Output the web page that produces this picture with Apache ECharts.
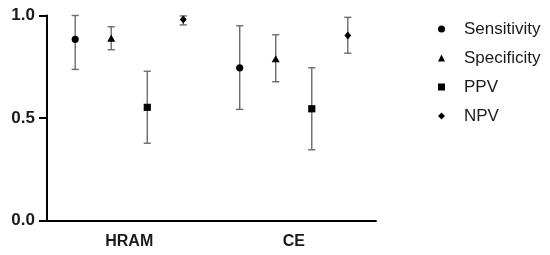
<!DOCTYPE html>
<html>
<head>
<meta charset="utf-8">
<script src="https://cdn.jsdelivr.net/npm/echarts@6/dist/echarts.min.js"></script>
<style>html,body{margin:0;padding:0;background:#fff;}#c{width:550px;height:255px;}</style>
</head>
<body>
<div id="c"></div>
<script>
var categories = ['HRAM', 'CE'];
var seriesNames = ['Sensitivity', 'Specificity', 'PPV', 'NPV'];
var yTicks = [0, 0.5, 1.0];
// values per category [HRAM, CE]
var sensValue = [0.884, 0.745];
var sensLow   = [0.737, 0.542];
var sensHigh  = [1.000, 0.950];
var specValue = [0.887, 0.786];
var specLow   = [0.833, 0.677];
var specHigh  = [0.945, 0.906];
var ppvValue  = [0.552, 0.545];
var ppvLow    = [0.377, 0.345];
var ppvHigh   = [0.728, 0.745];
var npvValue  = [0.981, 0.903];
var npvLow    = [0.954, 0.816];
var npvHigh   = [0.998, 0.991];

var groups = [
  [sensValue, sensLow, sensHigh],
  [specValue, specLow, specHigh],
  [ppvValue, ppvLow, ppvHigh],
  [npvValue, npvLow, npvHigh]
];
var shapes = ['circle', 'triangle', 'square', 'diamond'];
var legendIcons = ['circle', 'triangle', 'rect', 'diamond'];

function markerShape(kind, x, y) {
  if (kind === 'circle') return {type: 'circle', shape: {cx: x, cy: y, r: 3.6}, style: {fill: '#000'}};
  if (kind === 'square') return {type: 'rect', shape: {x: x - 3.6, y: y - 3.6, width: 7.2, height: 7.2}, style: {fill: '#000'}};
  if (kind === 'triangle') return {type: 'polygon', shape: {points: [[x, y - 4.2], [x + 4, y + 3], [x - 4, y + 3]]}, style: {fill: '#000'}};
  return {type: 'polygon', shape: {points: [[x, y - 4], [x + 3.4, y], [x, y + 4], [x - 3.4, y]]}, style: {fill: '#000'}};
}

var series = groups.map(function (g, si) {
  var data = categories.map(function (c, ci) { return [ci, g[0][ci], g[1][ci], g[2][ci]]; });
  return {
    name: seriesNames[si],
    type: 'custom',
    data: data,
    encode: {x: 0, y: [1, 2, 3]},
    renderItem: function (params, api) {
      var ci = api.value(0);
      var band = api.size([1, 0])[0];
      var off = (si - 1.5) * band * 0.219;
      var p = api.coord([ci, api.value(1)]);
      var lo = api.coord([ci, api.value(2)]);
      var hi = api.coord([ci, api.value(3)]);
      var x = p[0] + off;
      var cap = 3.6;
      var ls = {stroke: '#6b6b6b', lineWidth: 1.4};
      return {
        type: 'group',
        children: [
          {type: 'line', shape: {x1: x, y1: hi[1], x2: x, y2: lo[1]}, style: ls},
          {type: 'line', shape: {x1: x - cap, y1: hi[1], x2: x + cap, y2: hi[1]}, style: ls},
          {type: 'line', shape: {x1: x - cap, y1: lo[1], x2: x + cap, y2: lo[1]}, style: ls},
          markerShape(shapes[si], x, p[1])
        ]
      };
    }
  };
});

var chart = echarts.init(document.getElementById('c'), null, {renderer: 'canvas'});
chart.setOption({
  animation: false,
  backgroundColor: '#fff',
  grid: {left: 47, right: 174, top: 15.5, bottom: 34.5, containLabel: false},
  legend: {
    orient: 'vertical',
    left: 433,
    top: 14,
    itemWidth: 7,
    itemHeight: 7,
    itemGap: 9,
    textStyle: {fontFamily: 'Liberation Sans, Arial, sans-serif', fontSize: 17, color: '#1a1a1a', padding: [0, 0, 0, 14], lineHeight: 20},
    data: seriesNames.map(function (n, i) { return {name: n, icon: legendIcons[i], itemStyle: {color: '#000'}}; })
  },
  xAxis: {
    type: 'category',
    data: categories,
    axisLine: {lineStyle: {color: '#000', width: 2}},
    axisTick: {alignWithLabel: true, length: 8, lineStyle: {color: '#000', width: 2}},
    axisLabel: {fontFamily: 'Liberation Sans, Arial, sans-serif', fontWeight: 'bold', fontSize: 16, color: '#1a1a1a', margin: 13},
    splitLine: {show: false}
  },
  yAxis: {
    type: 'value',
    min: yTicks[0],
    max: yTicks[yTicks.length - 1],
    interval: 0.5,
    axisLine: {show: true, lineStyle: {color: '#000', width: 2}},
    axisTick: {show: true, length: 8, lineStyle: {color: '#000', width: 2}},
    axisLabel: {fontFamily: 'Liberation Sans, Arial, sans-serif', fontWeight: 'bold', fontSize: 17, color: '#1a1a1a', margin: 12,
      formatter: function (v) { return v.toFixed(1); }},
    splitLine: {show: false}
  },
  series: series
});
</script>
</body>
</html>
